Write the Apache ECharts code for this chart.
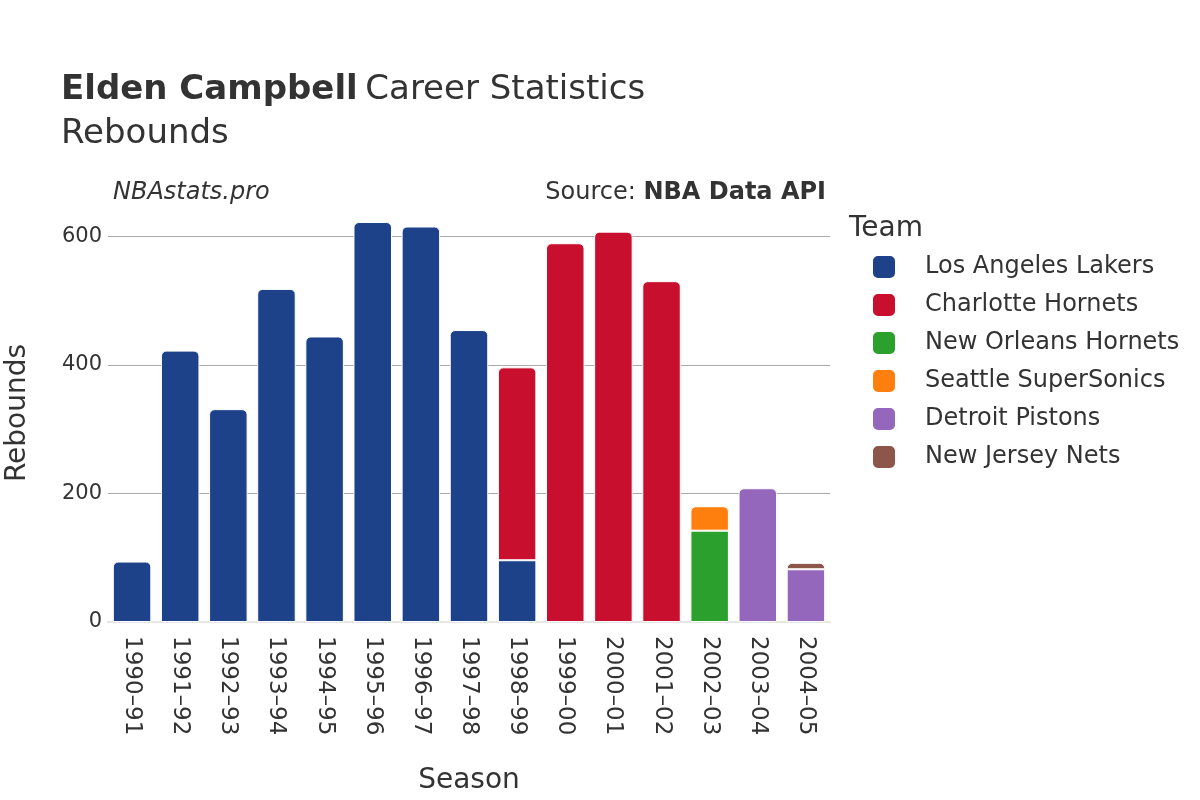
<!DOCTYPE html>
<html>
<head>
<meta charset="utf-8">
<script src="https://cdn.jsdelivr.net/npm/echarts@6/dist/echarts.min.js"></script>
<style>html,body{margin:0;padding:0;background:#fff;}#c{width:1200px;height:800px;}</style>
</head>
<body>
<div id="c"></div>
<script>
const seasons = ['1990-91','1991-92','1992-93','1993-94','1994-95','1995-96','1996-97','1997-98','1998-99','1999-00','2000-01','2001-02','2002-03','2003-04','2004-05'];
const teams = ['Los Angeles Lakers','Charlotte Hornets','New Orleans Hornets','Seattle SuperSonics','Detroit Pistons','New Jersey Nets'];
const lakers   = [94, 422, 331, 518, 444, 622, 615, 454, 96, null, null, null, null, null, null];
const hornets  = [null, null, null, null, null, null, null, null, 300, 589, 607, 530, null, null, null];
const noHornets= [null, null, null, null, null, null, null, null, null, null, null, null, 142, null, null];
const sonics   = [null, null, null, null, null, null, null, null, null, null, null, null, 38, null, null];
const pistons  = [null, null, null, null, null, null, null, null, null, null, null, null, null, 208, 82];
const nets     = [null, null, null, null, null, null, null, null, null, null, null, null, null, null, 10];
const yTicks = [0, 200, 400, 600];

const seriesData = [lakers, hornets, noHornets, sonics, pistons, nets];
const colors = ['#1d428a', '#c8102e', '#2ca02c', '#ff7f0e', '#9467bd', '#8c564b'];
const FONT = 'DejaVu Sans';

const topIdx = seasons.map((_, i) => {
  let t = -1;
  seriesData.forEach((arr, s) => { if (arr[i] != null) t = s; });
  return t;
});

const series = seriesData.map((arr, s) => ({
  name: teams[s],
  type: 'bar',
  stack: 'total',
  barCategoryGap: '20%',
  itemStyle: { color: colors[s], borderColor: '#ffffff', borderWidth: 1 },
  data: arr.map((v, i) => v == null ? null : {
    value: v,
    itemStyle: { borderRadius: topIdx[i] === s ? [5, 5, 0, 0] : 0 }
  })
}));

const chart = echarts.init(document.getElementById('c'), null, { renderer: 'canvas' });
chart.setOption({
  backgroundColor: '#ffffff',
  animation: false,
  textStyle: { fontFamily: FONT },
  title: [{
    left: 61, top: 68, padding: 0,
    text: '{b|Elden Campbell}  {n|Career Statistics}\n{n|Rebounds}',
    textStyle: {
      fontWeight: 'normal', fontSize: 12,
      rich: {
        b: { fontFamily: FONT, fontWeight: 'bold', fontSize: 34, color: '#333333', lineHeight: 44 },
        n: { fontFamily: FONT, fontWeight: 'normal', fontSize: 34, color: '#333333', lineHeight: 44 }
      }
    }
  }],
  graphic: [
    { type: 'text', left: 113, top: 181, style: { text: 'NBAstats.pro', font: 'italic 24px "DejaVu Sans"', fill: '#333333' } },
    { type: 'text', right: 374, top: 181, style: { rich: {
        a: { fontFamily: FONT, fontSize: 24, fill: '#333333' },
        b: { fontFamily: FONT, fontSize: 24, fontWeight: 'bold', fill: '#333333' }
      }, text: '{a|Source: }{b|NBA Data API}' } },
    { type: 'text', left: 849, top: 215, style: { text: 'Team', font: '28px "DejaVu Sans"', fill: '#333333' } }
  ],
  legend: {
    orient: 'vertical',
    left: 871, top: 254, padding: 0,
    icon: 'roundRect',
    itemWidth: 24, itemHeight: 24,
    itemGap: 12,
    data: teams,
    textStyle: { fontFamily: FONT, fontSize: 24, color: '#333333', padding: [0, 0, 0, 24] }
  },
  grid: { left: 108, right: 370, top: 204, bottom: 178, containLabel: false, outerBoundsMode: 'none' },
  xAxis: {
    type: 'category',
    data: seasons,
    name: 'Season',
    nameLocation: 'middle',
    nameGap: 145,
    nameTextStyle: { fontFamily: FONT, fontSize: 28, color: '#333333' },
    axisLine: { show: true, lineStyle: { color: '#e6e6e6', width: 2 } },
    axisTick: { show: false },
    axisLabel: { rotate: -90, fontFamily: FONT, fontSize: 23, color: '#333333', margin: 14,
      formatter: v => v.replace('-', '–') }
  },
  yAxis: {
    type: 'value',
    min: 0, max: 650, interval: 200,
    name: 'Rebounds',
    nameLocation: 'middle',
    nameGap: 76,
    nameTextStyle: { fontFamily: FONT, fontSize: 28, color: '#333333' },
    axisLine: { show: false },
    axisTick: { show: false },
    splitLine: { showMaxLine: false, lineStyle: { color: '#aaaaaa', width: 1 } },
    axisLabel: { fontFamily: FONT, fontSize: 21, color: '#333333', margin: 6, showMaxLabel: false,
      formatter: v => yTicks.includes(v) ? String(v) : '' }
  },
  series: series
});
</script>
</body>
</html>
